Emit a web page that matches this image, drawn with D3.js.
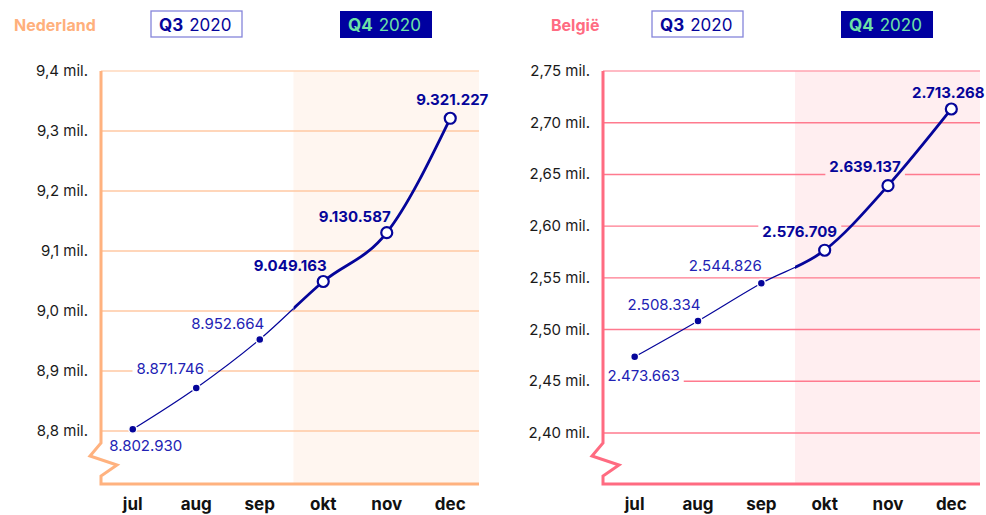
<!DOCTYPE html>
<html>
<head>
<meta charset="utf-8">
<script src="https://cdn.jsdelivr.net/npm/d3@7"></script>
<style>
  body { margin: 0; background: #fff; }
  svg { display: block; font-family: Inter, "Noto Sans", sans-serif; }
</style>
</head>
<body>
<svg id="chart" width="986" height="515"></svg>
<script>
// data
var months = ["jul", "aug", "sep", "okt", "nov", "dec"];
var q3Months = ["jul", "aug", "sep"];
var nlValues = [8802930, 8871746, 8952664, 9049163, 9130587, 9321227];
var beValues = [2473663, 2508334, 2544826, 2576709, 2639137, 2713268];
var nlTicks = [8.8e6, 8.9e6, 9.0e6, 9.1e6, 9.2e6, 9.3e6, 9.4e6];
var beTicks = [2.40e6, 2.45e6, 2.50e6, 2.55e6, 2.60e6, 2.65e6, 2.70e6, 2.75e6];

// label nudges (dx, dy) relative to each point
var nlLabelOffsets = [[13, 22], [-26, -14], [-32, -10], [-33, -11], [-32, -11], [2, -13]];
var beLabelOffsets = [[9, 24], [-34, -11], [-36, -12], [-25, -13], [-23, -14], [-3, -11]];

var NAVY = "#05059a";
var Q3TEXT = "#2222b4";

var nl = d3.formatLocale({ decimal: ",", thousands: ".", grouping: [3], currency: ["", ""] });
var fmtNum = nl.format(",");

var svg = d3.select("#chart");

function drawChart(opt) {
    var g = svg.append("g");
    var x = d3.scalePoint().domain(months).range([opt.left, opt.xEnd]).padding(0.5);
    var y = d3.scaleLinear().domain(opt.domain).range([opt.bottomTick, opt.top]);
    var step = x.step();
    var q4Start = x("okt") - step / 2 + 2;
    var axisBottom = 484;

    // title + legend
    g.append("text")
        .attr("x", opt.titleX).attr("y", 31)
        .attr("font-size", 16).attr("font-weight", "bold")
        .attr("fill", opt.titleColor)
        .text(opt.title);

    var leg3 = g.append("g").attr("transform", "translate(" + opt.leg3X + ",11)");
    leg3.append("rect").attr("width", 91).attr("height", 26)
        .attr("fill", "#fff").attr("stroke", "#8585da").attr("stroke-width", 1.3);
    var t3 = leg3.append("text").attr("x", 8).attr("y", 20).attr("font-size", 17).attr("fill", NAVY);
    t3.append("tspan").attr("font-weight", "bold").text("Q3");
    t3.append("tspan").attr("dx", 6).text("2020");

    var leg4 = g.append("g").attr("transform", "translate(" + opt.leg4X + ",11)");
    leg4.append("rect").attr("width", 92).attr("height", 27).attr("fill", "#0000a0");
    var t4 = leg4.append("text").attr("x", 8).attr("y", 20).attr("font-size", 17).attr("fill", "#6ee3a6");
    t4.append("tspan").attr("font-weight", "bold").text("Q4");
    t4.append("tspan").attr("dx", 6).text("2020");

    // Q4 shading
    g.append("rect")
        .attr("x", q4Start).attr("y", opt.top)
        .attr("width", opt.right - q4Start).attr("height", axisBottom - opt.top)
        .attr("fill", opt.shade);

    // mask so labels cut the gridlines
    var maskId = "mask-" + opt.id;
    var mask = svg.append("defs").append("mask").attr("id", maskId);
    mask.append("rect").attr("width", 986).attr("height", 515).attr("fill", "#fff");

    g.append("g").attr("mask", "url(#" + maskId + ")")
        .selectAll("line").data(opt.ticks).join("line")
        .attr("x1", opt.left).attr("x2", opt.right)
        .attr("y1", function(d) { return y(d); }).attr("y2", function(d) { return y(d); })
        .attr("stroke", function(d, i) { return i == opt.ticks.length - 1 ? opt.gridTop : opt.grid; })
        .attr("stroke-width", 1.4);

    // y tick labels
    g.selectAll(".ytick").data(opt.ticks).join("text")
        .attr("class", "ytick")
        .attr("x", opt.left - 13).attr("y", function(d) { return y(d) + 5; })
        .attr("text-anchor", "end").attr("font-size", 15).attr("fill", "#1a1a1a")
        .text(function(d) { return nl.format(opt.tickFmt)(d / 1e6) + " mil."; });

    // axis with break
    var x0 = opt.left;
    g.append("path")
        .attr("d", "M" + x0 + "," + opt.top + "L" + x0 + ",443L" + (x0 - 11) + ",456L" + (x0 + 16) + ",465L" + x0 + ",476L" + x0 + "," + axisBottom + "L" + opt.right + "," + axisBottom)
        .attr("fill", "none").attr("stroke", opt.axis).attr("stroke-width", 3);

    // month labels
    g.selectAll(".month").data(months).join("text")
        .attr("class", "month")
        .attr("x", function(d) { return x(d); }).attr("y", 510)
        .attr("text-anchor", "middle").attr("font-size", 17).attr("font-weight", "bold").attr("fill", "#111")
        .text(function(d) { return d; });

    // line, thin in Q3 and thick in Q4
    var pts = months.map(function(m, i) { return [x(m), y(opt.values[i])]; });
    var line = d3.line().curve(d3.curveMonotoneX);
    var defs = svg.select("defs");
    defs.append("clipPath").attr("id", "c3-" + opt.id).append("rect")
        .attr("x", 0).attr("y", 0).attr("width", q4Start).attr("height", 515);
    defs.append("clipPath").attr("id", "c4-" + opt.id).append("rect")
        .attr("x", q4Start).attr("y", 0).attr("width", 986 - q4Start).attr("height", 515);
    g.append("path").attr("d", line(pts)).attr("clip-path", "url(#c3-" + opt.id + ")")
        .attr("fill", "none").attr("stroke", NAVY).attr("stroke-width", 1.2);
    g.append("path").attr("d", line(pts)).attr("clip-path", "url(#c4-" + opt.id + ")")
        .attr("fill", "none").attr("stroke", NAVY).attr("stroke-width", 2.8);

    // points
    months.forEach(function(m, i) {
        var isQ3 = q3Months.indexOf(m) >= 0;
        g.append("circle")
            .attr("cx", pts[i][0]).attr("cy", pts[i][1])
            .attr("r", isQ3 ? 4 : 5.5)
            .attr("fill", isQ3 ? NAVY : "#fff")
            .attr("stroke", isQ3 ? "#fff" : NAVY)
            .attr("stroke-width", isQ3 ? 1.5 : 2.2);

        var off = opt.offsets[i];
        var t = g.append("text")
            .attr("x", pts[i][0] + off[0]).attr("y", pts[i][1] + off[1])
            .attr("text-anchor", "middle").attr("font-size", 15)
            .attr("font-weight", isQ3 ? "normal" : "bold")
            .attr("fill", isQ3 ? Q3TEXT : NAVY)
            .text(fmtNum(opt.values[i]));
        var b = t.node().getBBox();
        mask.append("rect")
            .attr("x", b.x - 4).attr("y", b.y - 1)
            .attr("width", b.width + 8).attr("height", b.height + 2)
            .attr("fill", "#000");
    });
}

drawChart({
    id: "nl", title: "Nederland", titleX: 14, titleColor: "#ffb07c",
    leg3X: 151, leg4X: 340,
    left: 101, xEnd: 482, right: 479, top: 71, bottomTick: 431,
    domain: [8.8e6, 9.4e6], ticks: nlTicks, tickFmt: ".1f",
    values: nlValues, offsets: nlLabelOffsets,
    shade: "#fff6f0", grid: "#ffc9a3", gridTop: "#ffd9bd", axis: "#ffb27f"
});

drawChart({
    id: "be", title: "België", titleX: 551, titleColor: "#ff6b82",
    leg3X: 652, leg4X: 841,
    left: 603, xEnd: 983, right: 980, top: 71, bottomTick: 433,
    domain: [2.40e6, 2.75e6], ticks: beTicks, tickFmt: ".2f",
    values: beValues, offsets: beLabelOffsets,
    shade: "#ffeef0", grid: "#ff7a8e", gridTop: "#ffa3b1", axis: "#ff6b81"
});
</script>
</body>
</html>
